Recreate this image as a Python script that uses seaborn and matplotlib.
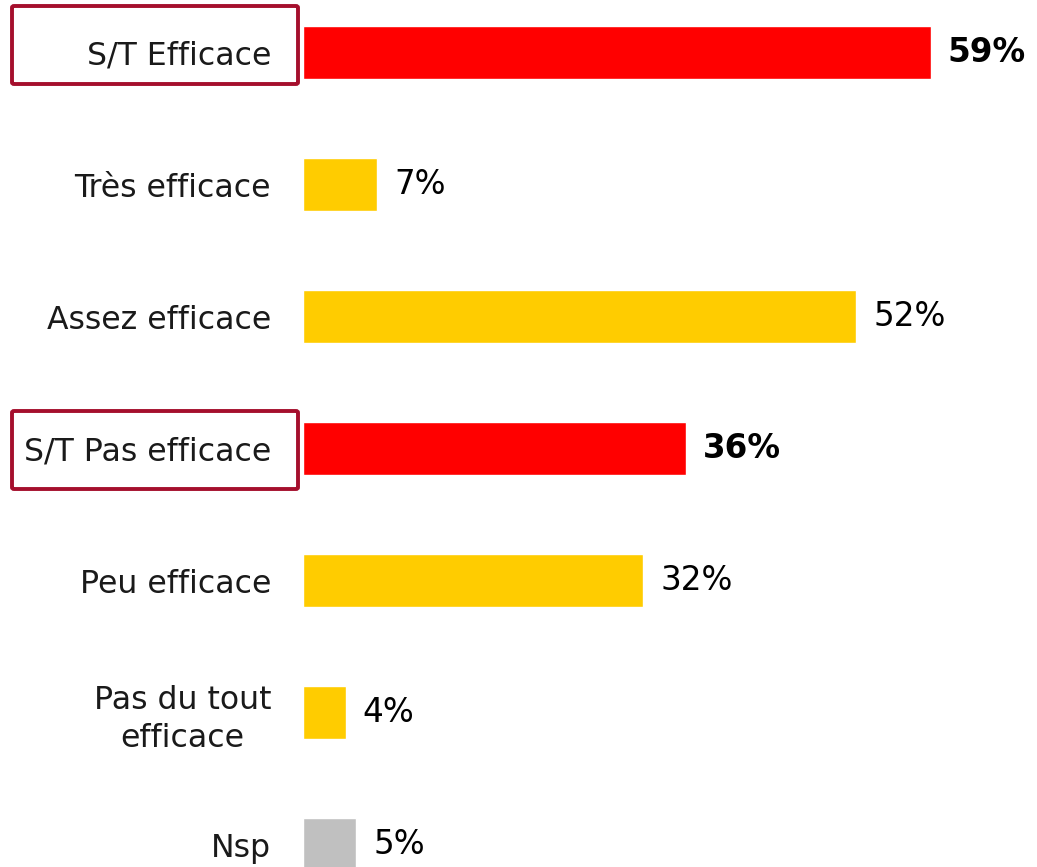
import matplotlib
matplotlib.use("Agg")
import matplotlib.pyplot as plt
import seaborn as sns
import pandas as pd
from matplotlib.patches import FancyBboxPatch

# data
categories = ["S/T Efficace", "Très efficace", "Assez efficace", "S/T Pas efficace",
              "Peu efficace", "Pas du tout\nefficace", "Nsp"]
values = [59, 7, 52, 36, 32, 4, 5]
colors = ["#FF0000", "#FFCC00", "#FFCC00", "#FF0000", "#FFCC00", "#FFCC00", "#C0C0C0"]
bold_rows = ["S/T Efficace", "S/T Pas efficace"]

df = pd.DataFrame({"cat": categories, "val": values})

sns.set_style("white")
plt.rcParams["font.family"] = ["DejaVu Sans"]

fig = plt.figure(figsize=(10.37, 8.67), dpi=100)
ax = fig.add_axes([303 / 1037, 0, (1037 - 303) / 1037, 1])

sns.barplot(data=df, x="val", y="cat", hue="cat", palette=colors, legend=False,
            width=0.4, saturation=1, ax=ax)

ax.set_xlim(0, 69)
ax.set_ylim(6.17, -0.398)
ax.set_xlabel("")
ax.set_ylabel("")
ax.set_xticks([])
ax.tick_params(axis="y", length=0, pad=23)
ax.set_yticks(range(len(categories)))
ax.set_yticklabels(categories, fontsize=22.7, color="#1a1a1a", multialignment="center",
                   linespacing=1.3)
sns.despine(ax=ax, left=True, bottom=True, top=True, right=True)

for i, (c, v) in enumerate(zip(categories, values)):
    weight = "bold" if c in bold_rows else "normal"
    ax.text(v + 1.6, i, f"{v}%", va="center", ha="left", fontsize=23.5,
            fontweight=weight, color="black")

# frames round the subtotal labels (pixel boxes: top, bottom)
frames = [(6, 84), (411, 489)]
for top, bottom in frames:
    box = FancyBboxPatch((12 / 1037, 1 - bottom / 867), 286 / 1037, (bottom - top) / 867,
                         boxstyle="round,pad=0,rounding_size=0.002",
                         transform=fig.transFigure, fill=False,
                         edgecolor="#A50F2D", linewidth=2.8, clip_on=False)
    fig.patches.append(box)

fig.savefig("out.png", dpi=100)
